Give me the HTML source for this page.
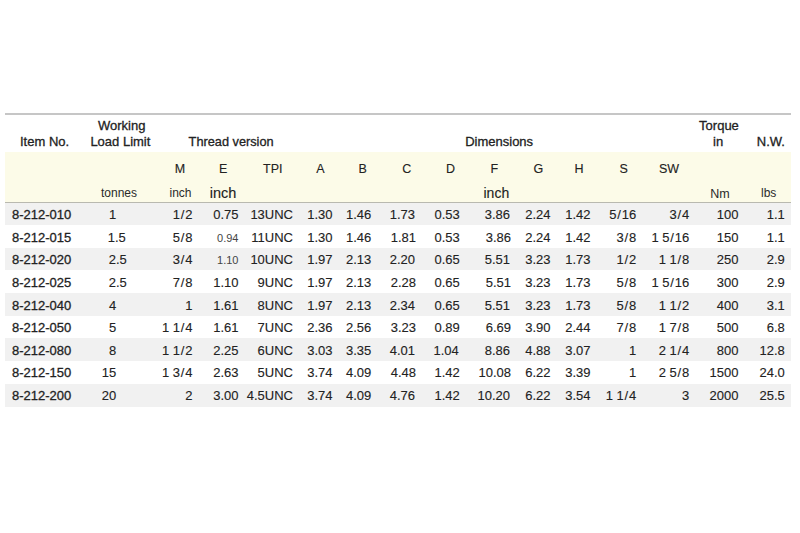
<!DOCTYPE html>
<html><head><meta charset="utf-8"><title>Turnbuckle dimensions</title>
<style>
html,body{margin:0;padding:0;background:#fff;}
body{width:800px;height:533px;position:relative;overflow:hidden;font-family:"Liberation Sans",Arial,sans-serif;color:#222;}
div{position:absolute;white-space:nowrap;}
.h{-webkit-text-stroke:0.3px #222;}
.d{-webkit-text-stroke:0.12px #222;}
.s{color:#444;}
.u{color:#2a2a2a;}
.ln1{left:5px;top:113px;width:786px;height:2px;background:#c6c6c6;}
.yb{left:5px;top:152px;width:786px;height:50px;background:#fcfbe8;}
.ln2{left:5px;top:202px;width:786px;height:1px;background:#b9b9b0;}
.rb{left:5px;width:786px;background:#f1f1f1;}
.sl{margin:0 0.8px;}
</style></head><body>
<div class="ln1"></div>
<div class="yb"></div>
<div class="ln2"></div>
<div class="rb" style="top:203px;height:22px"></div>
<div class="rb" style="top:248px;height:22px"></div>
<div class="rb" style="top:293px;height:23px"></div>
<div class="rb" style="top:338px;height:23px"></div>
<div class="rb" style="top:384px;height:23px"></div>
<div id="t0" class="h" style="top:133.50px;left:20.00px;font-size:13px;line-height:16px">Item No.</div>
<div id="t1" class="h" style="top:118.05px;left:98.00px;font-size:13px;line-height:16px">Working</div>
<div id="t2" class="h" style="top:133.50px;left:90.40px;font-size:13px;line-height:16px">Load Limit</div>
<div id="t3" class="h" style="top:133.58px;left:188.60px;font-size:12.75px;line-height:16px">Thread version</div>
<div id="t4" class="h" style="top:133.50px;left:465.20px;font-size:13px;line-height:16px">Dimensions</div>
<div id="t5" class="h" style="top:118.20px;left:699.10px;font-size:13px;line-height:16px">Torque</div>
<div id="t6" class="h" style="top:133.50px;left:713.00px;font-size:13px;line-height:16px">in</div>
<div id="t7" class="h" style="top:133.50px;left:756.75px;font-size:13px;line-height:16px">N.W.</div>
<div id="t8" class="d" style="top:160.92px;left:174.75px;font-size:12.5px;line-height:16px">M</div>
<div id="t9" class="d" style="top:160.92px;left:219.00px;font-size:12.5px;line-height:16px">E</div>
<div id="t10" class="d" style="top:160.92px;left:263.00px;font-size:12.5px;line-height:16px">TPI</div>
<div id="t11" class="d" style="top:160.92px;left:316.25px;font-size:12.5px;line-height:16px">A</div>
<div id="t12" class="d" style="top:160.92px;left:358.50px;font-size:12.5px;line-height:16px">B</div>
<div id="t13" class="d" style="top:160.92px;left:402.25px;font-size:12.5px;line-height:16px">C</div>
<div id="t14" class="d" style="top:160.92px;left:446.00px;font-size:12.5px;line-height:16px">D</div>
<div id="t15" class="d" style="top:160.92px;left:490.50px;font-size:12.5px;line-height:16px">F</div>
<div id="t16" class="d" style="top:160.92px;left:533.50px;font-size:12.5px;line-height:16px">G</div>
<div id="t17" class="d" style="top:160.92px;left:574.50px;font-size:12.5px;line-height:16px">H</div>
<div id="t18" class="d" style="top:160.92px;left:619.50px;font-size:12.5px;line-height:16px">S</div>
<div id="t19" class="d" style="top:160.92px;left:659.00px;font-size:12.5px;line-height:16px">SW</div>
<div id="t20" class="u" style="top:186.34px;left:101.00px;font-size:12px;line-height:15px">tonnes</div>
<div id="t21" class="u" style="top:186.34px;left:169.50px;font-size:12px;line-height:15px">inch</div>
<div id="t22" class="d" style="top:184.23px;left:209.75px;font-size:14.5px;line-height:18px">inch</div>
<div id="t23" class="d" style="top:184.15px;left:483.50px;font-size:14px;line-height:18px">inch</div>
<div id="t24" class="u" style="top:186.17px;left:710.25px;font-size:12.5px;line-height:16px">Nm</div>
<div id="t25" class="u" style="top:186.34px;left:761.00px;font-size:12px;line-height:15px">lbs</div>
<div id="t26" class="h" style="top:206.60px;left:12.00px;font-size:13px;line-height:16px">8-212-010</div>
<div id="t27" class="d" style="top:206.60px;right:683.80px;text-align:right;font-size:13px;line-height:16px">1</div>
<div id="t28" class="d" style="top:206.60px;right:607.50px;text-align:right;font-size:13px;line-height:16px">1<span class="sl">/</span>2</div>
<div id="t29" class="d" style="top:206.60px;right:561.50px;text-align:right;font-size:13px;line-height:16px">0.75</div>
<div id="t30" class="d" style="top:206.60px;right:507.00px;text-align:right;font-size:13px;line-height:16px">13UNC</div>
<div id="t31" class="d" style="top:206.60px;right:467.50px;text-align:right;font-size:13px;line-height:16px">1.30</div>
<div id="t32" class="d" style="top:206.60px;right:428.75px;text-align:right;font-size:13px;line-height:16px">1.46</div>
<div id="t33" class="d" style="top:206.60px;right:385.00px;text-align:right;font-size:13px;line-height:16px">1.73</div>
<div id="t34" class="d" style="top:206.60px;right:340.25px;text-align:right;font-size:13px;line-height:16px">0.53</div>
<div id="t35" class="d" style="top:206.60px;right:290.00px;text-align:right;font-size:13px;line-height:16px">3.86</div>
<div id="t36" class="d" style="top:206.60px;right:249.50px;text-align:right;font-size:13px;line-height:16px">2.24</div>
<div id="t37" class="d" style="top:206.60px;right:209.50px;text-align:right;font-size:13px;line-height:16px">1.42</div>
<div id="t38" class="d" style="top:206.60px;right:163.75px;text-align:right;font-size:13px;line-height:16px">5<span class="sl">/</span>16</div>
<div id="t39" class="d" style="top:206.60px;right:110.75px;text-align:right;font-size:13px;line-height:16px">3<span class="sl">/</span>4</div>
<div id="t40" class="d" style="top:206.60px;right:61.50px;text-align:right;font-size:13px;line-height:16px">100</div>
<div id="t41" class="d" style="top:206.60px;right:15.25px;text-align:right;font-size:13px;line-height:16px">1.1</div>
<div id="t42" class="h" style="top:230.21px;left:12.00px;font-size:13px;line-height:16px">8-212-015</div>
<div id="t43" class="d" style="top:230.21px;left:107.75px;font-size:13px;line-height:16px">1.5</div>
<div id="t44" class="d" style="top:230.21px;right:607.50px;text-align:right;font-size:13px;line-height:16px">5<span class="sl">/</span>8</div>
<div id="t45" class="s" style="top:230.90px;right:561.50px;text-align:right;font-size:11px;line-height:14px">0.94</div>
<div id="t46" class="d" style="top:230.21px;right:507.00px;text-align:right;font-size:13px;line-height:16px">11UNC</div>
<div id="t47" class="d" style="top:230.21px;right:467.50px;text-align:right;font-size:13px;line-height:16px">1.30</div>
<div id="t48" class="d" style="top:230.21px;right:428.75px;text-align:right;font-size:13px;line-height:16px">1.46</div>
<div id="t49" class="d" style="top:230.21px;right:384.00px;text-align:right;font-size:13px;line-height:16px">1.81</div>
<div id="t50" class="d" style="top:230.21px;right:340.25px;text-align:right;font-size:13px;line-height:16px">0.53</div>
<div id="t51" class="d" style="top:230.21px;right:289.00px;text-align:right;font-size:13px;line-height:16px">3.86</div>
<div id="t52" class="d" style="top:230.21px;right:249.50px;text-align:right;font-size:13px;line-height:16px">2.24</div>
<div id="t53" class="d" style="top:230.21px;right:209.50px;text-align:right;font-size:13px;line-height:16px">1.42</div>
<div id="t54" class="d" style="top:230.21px;right:163.75px;text-align:right;font-size:13px;line-height:16px">3<span class="sl">/</span>8</div>
<div id="t55" class="d" style="top:230.21px;right:110.75px;text-align:right;font-size:13px;line-height:16px">1 5<span class="sl">/</span>16</div>
<div id="t56" class="d" style="top:230.21px;right:61.50px;text-align:right;font-size:13px;line-height:16px">150</div>
<div id="t57" class="d" style="top:230.21px;right:15.25px;text-align:right;font-size:13px;line-height:16px">1.1</div>
<div id="t58" class="h" style="top:251.82px;left:12.00px;font-size:13px;line-height:16px">8-212-020</div>
<div id="t59" class="d" style="top:251.82px;left:108.75px;font-size:13px;line-height:16px">2.5</div>
<div id="t60" class="d" style="top:251.82px;right:607.50px;text-align:right;font-size:13px;line-height:16px">3<span class="sl">/</span>4</div>
<div id="t61" class="s" style="top:252.51px;right:561.50px;text-align:right;font-size:11px;line-height:14px">1.10</div>
<div id="t62" class="d" style="top:251.82px;right:507.00px;text-align:right;font-size:13px;line-height:16px">10UNC</div>
<div id="t63" class="d" style="top:251.82px;right:467.50px;text-align:right;font-size:13px;line-height:16px">1.97</div>
<div id="t64" class="d" style="top:251.82px;right:428.75px;text-align:right;font-size:13px;line-height:16px">2.13</div>
<div id="t65" class="d" style="top:251.82px;right:385.00px;text-align:right;font-size:13px;line-height:16px">2.20</div>
<div id="t66" class="d" style="top:251.82px;right:340.25px;text-align:right;font-size:13px;line-height:16px">0.65</div>
<div id="t67" class="d" style="top:251.82px;right:290.00px;text-align:right;font-size:13px;line-height:16px">5.51</div>
<div id="t68" class="d" style="top:251.82px;right:249.50px;text-align:right;font-size:13px;line-height:16px">3.23</div>
<div id="t69" class="d" style="top:251.82px;right:209.50px;text-align:right;font-size:13px;line-height:16px">1.73</div>
<div id="t70" class="d" style="top:251.82px;right:163.75px;text-align:right;font-size:13px;line-height:16px">1<span class="sl">/</span>2</div>
<div id="t71" class="d" style="top:251.82px;right:110.75px;text-align:right;font-size:13px;line-height:16px">1 1<span class="sl">/</span>8</div>
<div id="t72" class="d" style="top:251.82px;right:61.50px;text-align:right;font-size:13px;line-height:16px">250</div>
<div id="t73" class="d" style="top:251.82px;right:15.25px;text-align:right;font-size:13px;line-height:16px">2.9</div>
<div id="t74" class="h" style="top:275.43px;left:12.00px;font-size:13px;line-height:16px">8-212-025</div>
<div id="t75" class="d" style="top:275.43px;left:108.75px;font-size:13px;line-height:16px">2.5</div>
<div id="t76" class="d" style="top:275.43px;right:607.50px;text-align:right;font-size:13px;line-height:16px">7<span class="sl">/</span>8</div>
<div id="t77" class="d" style="top:275.43px;right:561.50px;text-align:right;font-size:13px;line-height:16px">1.10</div>
<div id="t78" class="d" style="top:275.43px;right:507.00px;text-align:right;font-size:13px;line-height:16px">9UNC</div>
<div id="t79" class="d" style="top:275.43px;right:467.50px;text-align:right;font-size:13px;line-height:16px">1.97</div>
<div id="t80" class="d" style="top:275.43px;right:428.75px;text-align:right;font-size:13px;line-height:16px">2.13</div>
<div id="t81" class="d" style="top:275.43px;right:384.00px;text-align:right;font-size:13px;line-height:16px">2.28</div>
<div id="t82" class="d" style="top:275.43px;right:340.25px;text-align:right;font-size:13px;line-height:16px">0.65</div>
<div id="t83" class="d" style="top:275.43px;right:289.00px;text-align:right;font-size:13px;line-height:16px">5.51</div>
<div id="t84" class="d" style="top:275.43px;right:249.50px;text-align:right;font-size:13px;line-height:16px">3.23</div>
<div id="t85" class="d" style="top:275.43px;right:209.50px;text-align:right;font-size:13px;line-height:16px">1.73</div>
<div id="t86" class="d" style="top:275.43px;right:163.75px;text-align:right;font-size:13px;line-height:16px">5<span class="sl">/</span>8</div>
<div id="t87" class="d" style="top:275.43px;right:110.75px;text-align:right;font-size:13px;line-height:16px">1 5<span class="sl">/</span>16</div>
<div id="t88" class="d" style="top:275.43px;right:61.50px;text-align:right;font-size:13px;line-height:16px">300</div>
<div id="t89" class="d" style="top:275.43px;right:15.25px;text-align:right;font-size:13px;line-height:16px">2.9</div>
<div id="t90" class="h" style="top:298.04px;left:12.00px;font-size:13px;line-height:16px">8-212-040</div>
<div id="t91" class="d" style="top:298.04px;right:683.80px;text-align:right;font-size:13px;line-height:16px">4</div>
<div id="t92" class="d" style="top:298.04px;right:607.50px;text-align:right;font-size:13px;line-height:16px">1</div>
<div id="t93" class="d" style="top:298.04px;right:561.50px;text-align:right;font-size:13px;line-height:16px">1.61</div>
<div id="t94" class="d" style="top:298.04px;right:507.00px;text-align:right;font-size:13px;line-height:16px">8UNC</div>
<div id="t95" class="d" style="top:298.04px;right:467.50px;text-align:right;font-size:13px;line-height:16px">1.97</div>
<div id="t96" class="d" style="top:298.04px;right:428.75px;text-align:right;font-size:13px;line-height:16px">2.13</div>
<div id="t97" class="d" style="top:298.04px;right:385.00px;text-align:right;font-size:13px;line-height:16px">2.34</div>
<div id="t98" class="d" style="top:298.04px;right:340.25px;text-align:right;font-size:13px;line-height:16px">0.65</div>
<div id="t99" class="d" style="top:298.04px;right:290.00px;text-align:right;font-size:13px;line-height:16px">5.51</div>
<div id="t100" class="d" style="top:298.04px;right:249.50px;text-align:right;font-size:13px;line-height:16px">3.23</div>
<div id="t101" class="d" style="top:298.04px;right:209.50px;text-align:right;font-size:13px;line-height:16px">1.73</div>
<div id="t102" class="d" style="top:298.04px;right:163.75px;text-align:right;font-size:13px;line-height:16px">5<span class="sl">/</span>8</div>
<div id="t103" class="d" style="top:298.04px;right:110.75px;text-align:right;font-size:13px;line-height:16px">1 1<span class="sl">/</span>2</div>
<div id="t104" class="d" style="top:298.04px;right:61.50px;text-align:right;font-size:13px;line-height:16px">400</div>
<div id="t105" class="d" style="top:298.04px;right:15.25px;text-align:right;font-size:13px;line-height:16px">3.1</div>
<div id="t106" class="h" style="top:319.65px;left:12.00px;font-size:13px;line-height:16px">8-212-050</div>
<div id="t107" class="d" style="top:319.65px;right:683.80px;text-align:right;font-size:13px;line-height:16px">5</div>
<div id="t108" class="d" style="top:319.65px;right:607.50px;text-align:right;font-size:13px;line-height:16px">1 1<span class="sl">/</span>4</div>
<div id="t109" class="d" style="top:319.65px;right:561.50px;text-align:right;font-size:13px;line-height:16px">1.61</div>
<div id="t110" class="d" style="top:319.65px;right:507.00px;text-align:right;font-size:13px;line-height:16px">7UNC</div>
<div id="t111" class="d" style="top:319.65px;right:467.50px;text-align:right;font-size:13px;line-height:16px">2.36</div>
<div id="t112" class="d" style="top:319.65px;right:428.75px;text-align:right;font-size:13px;line-height:16px">2.56</div>
<div id="t113" class="d" style="top:319.65px;right:384.00px;text-align:right;font-size:13px;line-height:16px">3.23</div>
<div id="t114" class="d" style="top:319.65px;right:340.25px;text-align:right;font-size:13px;line-height:16px">0.89</div>
<div id="t115" class="d" style="top:319.65px;right:289.00px;text-align:right;font-size:13px;line-height:16px">6.69</div>
<div id="t116" class="d" style="top:319.65px;right:249.50px;text-align:right;font-size:13px;line-height:16px">3.90</div>
<div id="t117" class="d" style="top:319.65px;right:209.50px;text-align:right;font-size:13px;line-height:16px">2.44</div>
<div id="t118" class="d" style="top:319.65px;right:163.75px;text-align:right;font-size:13px;line-height:16px">7<span class="sl">/</span>8</div>
<div id="t119" class="d" style="top:319.65px;right:110.75px;text-align:right;font-size:13px;line-height:16px">1 7<span class="sl">/</span>8</div>
<div id="t120" class="d" style="top:319.65px;right:61.50px;text-align:right;font-size:13px;line-height:16px">500</div>
<div id="t121" class="d" style="top:319.65px;right:15.25px;text-align:right;font-size:13px;line-height:16px">6.8</div>
<div id="t122" class="h" style="top:343.26px;left:12.00px;font-size:13px;line-height:16px">8-212-080</div>
<div id="t123" class="d" style="top:343.26px;right:683.80px;text-align:right;font-size:13px;line-height:16px">8</div>
<div id="t124" class="d" style="top:343.26px;right:607.50px;text-align:right;font-size:13px;line-height:16px">1 1<span class="sl">/</span>2</div>
<div id="t125" class="d" style="top:343.26px;right:561.50px;text-align:right;font-size:13px;line-height:16px">2.25</div>
<div id="t126" class="d" style="top:343.26px;right:507.00px;text-align:right;font-size:13px;line-height:16px">6UNC</div>
<div id="t127" class="d" style="top:343.26px;right:467.50px;text-align:right;font-size:13px;line-height:16px">3.03</div>
<div id="t128" class="d" style="top:343.26px;right:428.75px;text-align:right;font-size:13px;line-height:16px">3.35</div>
<div id="t129" class="d" style="top:343.26px;right:385.00px;text-align:right;font-size:13px;line-height:16px">4.01</div>
<div id="t130" class="d" style="top:343.26px;right:341.25px;text-align:right;font-size:13px;line-height:16px">1.04</div>
<div id="t131" class="d" style="top:343.26px;right:290.00px;text-align:right;font-size:13px;line-height:16px">8.86</div>
<div id="t132" class="d" style="top:343.26px;right:249.50px;text-align:right;font-size:13px;line-height:16px">4.88</div>
<div id="t133" class="d" style="top:343.26px;right:209.50px;text-align:right;font-size:13px;line-height:16px">3.07</div>
<div id="t134" class="d" style="top:343.26px;right:163.75px;text-align:right;font-size:13px;line-height:16px">1</div>
<div id="t135" class="d" style="top:343.26px;right:110.75px;text-align:right;font-size:13px;line-height:16px">2 1<span class="sl">/</span>4</div>
<div id="t136" class="d" style="top:343.26px;right:61.50px;text-align:right;font-size:13px;line-height:16px">800</div>
<div id="t137" class="d" style="top:343.26px;right:15.25px;text-align:right;font-size:13px;line-height:16px">12.8</div>
<div id="t138" class="h" style="top:364.87px;left:12.00px;font-size:13px;line-height:16px">8-212-150</div>
<div id="t139" class="d" style="top:364.87px;right:683.80px;text-align:right;font-size:13px;line-height:16px">15</div>
<div id="t140" class="d" style="top:364.87px;right:607.50px;text-align:right;font-size:13px;line-height:16px">1 3<span class="sl">/</span>4</div>
<div id="t141" class="d" style="top:364.87px;right:561.50px;text-align:right;font-size:13px;line-height:16px">2.63</div>
<div id="t142" class="d" style="top:364.87px;right:507.00px;text-align:right;font-size:13px;line-height:16px">5UNC</div>
<div id="t143" class="d" style="top:364.87px;right:467.50px;text-align:right;font-size:13px;line-height:16px">3.74</div>
<div id="t144" class="d" style="top:364.87px;right:428.75px;text-align:right;font-size:13px;line-height:16px">4.09</div>
<div id="t145" class="d" style="top:364.87px;right:384.00px;text-align:right;font-size:13px;line-height:16px">4.48</div>
<div id="t146" class="d" style="top:364.87px;right:340.25px;text-align:right;font-size:13px;line-height:16px">1.42</div>
<div id="t147" class="d" style="top:364.87px;right:289.00px;text-align:right;font-size:13px;line-height:16px">10.08</div>
<div id="t148" class="d" style="top:364.87px;right:249.50px;text-align:right;font-size:13px;line-height:16px">6.22</div>
<div id="t149" class="d" style="top:364.87px;right:209.50px;text-align:right;font-size:13px;line-height:16px">3.39</div>
<div id="t150" class="d" style="top:364.87px;right:163.75px;text-align:right;font-size:13px;line-height:16px">1</div>
<div id="t151" class="d" style="top:364.87px;right:110.75px;text-align:right;font-size:13px;line-height:16px">2 5<span class="sl">/</span>8</div>
<div id="t152" class="d" style="top:364.87px;right:61.50px;text-align:right;font-size:13px;line-height:16px">1500</div>
<div id="t153" class="d" style="top:364.87px;right:15.25px;text-align:right;font-size:13px;line-height:16px">24.0</div>
<div id="t154" class="h" style="top:388.48px;left:12.00px;font-size:13px;line-height:16px">8-212-200</div>
<div id="t155" class="d" style="top:388.48px;right:683.80px;text-align:right;font-size:13px;line-height:16px">20</div>
<div id="t156" class="d" style="top:388.48px;right:607.50px;text-align:right;font-size:13px;line-height:16px">2</div>
<div id="t157" class="d" style="top:388.48px;right:561.50px;text-align:right;font-size:13px;line-height:16px">3.00</div>
<div id="t158" class="d" style="top:388.48px;right:507.00px;text-align:right;font-size:13px;line-height:16px">4.5UNC</div>
<div id="t159" class="d" style="top:388.48px;right:467.50px;text-align:right;font-size:13px;line-height:16px">3.74</div>
<div id="t160" class="d" style="top:388.48px;right:428.75px;text-align:right;font-size:13px;line-height:16px">4.09</div>
<div id="t161" class="d" style="top:388.48px;right:385.00px;text-align:right;font-size:13px;line-height:16px">4.76</div>
<div id="t162" class="d" style="top:388.48px;right:340.25px;text-align:right;font-size:13px;line-height:16px">1.42</div>
<div id="t163" class="d" style="top:388.48px;right:290.00px;text-align:right;font-size:13px;line-height:16px">10.20</div>
<div id="t164" class="d" style="top:388.48px;right:249.50px;text-align:right;font-size:13px;line-height:16px">6.22</div>
<div id="t165" class="d" style="top:388.48px;right:209.50px;text-align:right;font-size:13px;line-height:16px">3.54</div>
<div id="t166" class="d" style="top:388.48px;right:163.75px;text-align:right;font-size:13px;line-height:16px">1 1<span class="sl">/</span>4</div>
<div id="t167" class="d" style="top:388.48px;right:110.75px;text-align:right;font-size:13px;line-height:16px">3</div>
<div id="t168" class="d" style="top:388.48px;right:61.50px;text-align:right;font-size:13px;line-height:16px">2000</div>
<div id="t169" class="d" style="top:388.48px;right:15.25px;text-align:right;font-size:13px;line-height:16px">25.5</div>
</body></html>
